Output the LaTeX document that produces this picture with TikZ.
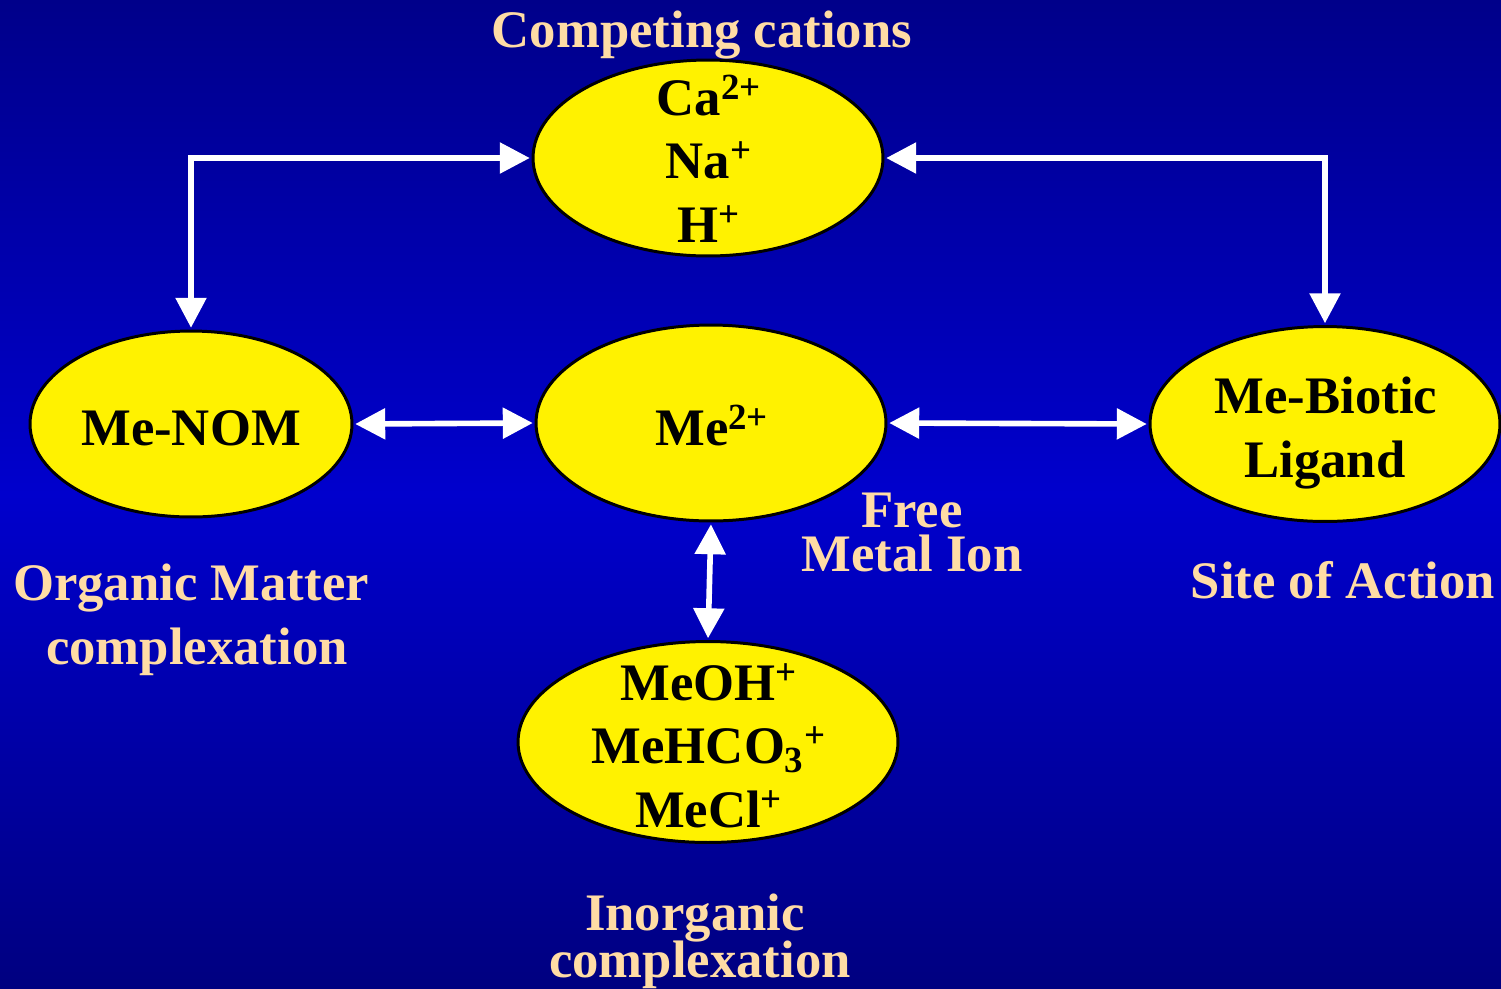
\documentclass[tikz,border=0pt]{standalone}
\usepackage{fontspec}
\setmainfont{Liberation Serif}
\usetikzlibrary{arrows.meta,shapes.geometric}
\definecolor{peach}{RGB}{255,220,165}
\definecolor{bgtop}{RGB}{0,0,138}
\definecolor{bgmid}{RGB}{0,0,205}
\definecolor{bgbot}{RGB}{0,0,128}
\begin{document}
\begin{tikzpicture}[x=0.02cm,y=-0.02cm,
  blob/.style={ellipse,draw=black,line width=1.7pt,fill=yellow,inner sep=0pt},
  lbl/.style={text=peach,font=\fontsize{30}{36}\selectfont\bfseries,anchor=base,inner sep=0pt},
  etxt/.style={text=black,font=\fontsize{30}{36}\selectfont\bfseries,anchor=base,inner sep=0pt},
  conn/.style={draw=white,line width=3.2pt,shorten <=1pt,shorten >=1pt,
    {Triangle[length=0.6cm,width=0.6cm]}-{Triangle[length=0.6cm,width=0.6cm]}}
]
\shade[top color=bgtop,bottom color=bgbot,middle color=bgmid] (0,0) rectangle (1501,988);
\useasboundingbox (0,0) rectangle (1501,988);

% ellipses
\node[blob,minimum width=7cm,minimum height=3.92cm] (top) at (708,158) {};
\node[blob,minimum width=6.44cm,minimum height=3.72cm] (nom) at (191,424) {};
\node[blob,minimum width=7cm,minimum height=3.92cm] (me) at (711,423) {};
\node[blob,minimum width=7cm,minimum height=3.9cm] (bio) at (1325,424) {};
\node[blob,minimum width=7.6cm,minimum height=4.02cm] (inorg) at (708,742) {};

% ellipse texts
\node[etxt] (ca) at (709,115) {Ca\textsuperscript{2+}};
\node[etxt] (na) at (709,178) {Na\textsuperscript{+}};
\node[etxt] (h) at (709,242) {H\textsuperscript{+}};
\node[etxt] (nomtxt) at (191,445) {Me-NOM};
\node[etxt] (metxt) at (712,445) {Me\textsuperscript{2+}};
\node[etxt] (bio1) at (1326,413) {Me-Biotic};
\node[etxt] (bio2) at (1325,477) {Ligand};
\node[etxt] (in1) at (709,700) {MeOH\textsuperscript{+}};
\node[etxt] (in2) at (709,763) {MeHCO\textsubscript{3}\textsuperscript{+}};
\node[etxt] (in3) at (709,827) {MeCl\textsuperscript{+}};

% labels
\node[lbl] (l1) at (702,47) {Competing cations};
\node[lbl] (l2) at (191,600) {Organic Matter};
\node[lbl] (l3) at (197,664) {complexation};
\node[lbl] (l4) at (912,527) {Free};
\node[lbl] (l5) at (912,571) {Metal Ion};
\node[lbl] (l6) at (1343,598) {Site of Action};
\node[lbl] (l7) at (695,930) {Inorganic};
\node[lbl] (l8) at (700,977) {complexation};

% connectors
\draw[conn] (nom.north) |- (top.west);
\draw[conn] (top.east) -| (bio.north);
\draw[conn] (nom.east) -- (me.west);
\draw[conn] (me.east) -- (bio.west);
\draw[conn] (me.south) -- (inorg.north);
\end{tikzpicture}
\end{document}
